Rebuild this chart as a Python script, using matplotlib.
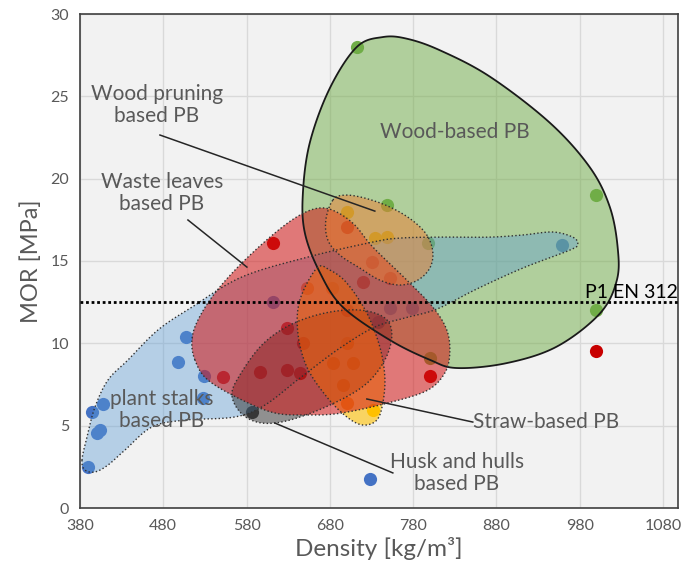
import numpy as np
import matplotlib.pyplot as plt
from matplotlib.patches import Polygon

plt.rcParams['font.family'] = ['Lato', 'DejaVu Sans']

# measured points (density kg/m3, MOR MPa)
stalks_x = [389.6, 400.4, 404, 394.4, 407.6, 497.6, 507.2, 528.8, 527.6, 728, 958.4, 611.6, 752, 778.4, 737.6]
stalks_y = [2.49, 4.55, 4.74, 5.83, 6.31, 8.86, 10.38, 8.01, 6.68, 1.76, 15.97, 12.51, 12.14, 12.14, 11.29]

leaves_x = [611.6, 551.6, 800, 999.2, 700.4, 596, 628.4, 644, 628.4, 647.6, 719.6, 752, 730.4, 700.4]
leaves_y = [16.09, 7.95, 8.01, 9.53, 17.06, 8.26, 8.38, 8.20, 10.93, 10.02, 13.72, 13.96, 14.94, 12.02]

wood_x = [712.4, 999.2, 999.2, 797.6, 800, 748.4]
wood_y = [27.99, 19.0, 12.02, 16.09, 9.11, 18.4]

pruning_x = [700.4, 748.4, 734, 731.6]
pruning_y = [17.97, 16.45, 16.39, 5.95]

straw_x = [652.4, 682.4, 700.4, 707.6, 683.6, 695.6, 700.4]
straw_y = [13.36, 13.36, 10.02, 8.80, 8.80, 7.47, 6.38]

husk_x = [586.4]
husk_y = [5.83]

# region outlines
wood_reg_x = [743.6, 712.4, 680, 656, 647.6, 650, 668, 695.6, 752, 800, 832.4, 892.4, 952.4, 1004,
              1024.4, 1025.6, 1016, 992, 944, 872, 812, 772.4]
wood_reg_y = [28.6, 28.0, 25.5, 22.2, 19.1, 16.7, 14.3, 12.2, 10.2, 9.0, 8.5, 8.8, 9.8, 11.8,
              13.8, 15.8, 18.3, 20.7, 23.4, 26.2, 27.8, 28.5]

stalks_reg_x = [382.4, 386, 398, 413.6, 434, 466.4, 506, 566, 602, 644, 692, 734, 770, 808.4, 856.4,
                911.6, 968, 977.6, 971.6, 947.6, 911.6, 872, 812, 764, 731.6, 653.6, 574.4, 514.4,
                473.6, 437.6, 413.6, 398, 388.4]
stalks_reg_y = [2.91, 2.31, 2.19, 2.61, 3.52, 4.92, 5.34, 5.53, 6.25, 7.89, 9.71, 10.99, 11.54, 12.08,
                13.30, 14.57, 15.66, 16.03, 16.45, 16.76, 16.58, 16.45, 16.45, 16.39, 16.15, 15.24,
                14.03, 12.20, 10.81, 8.99, 7.77, 6.13, 4.31]

leaves_reg_x = [518, 514.4, 521.6, 542, 574.4, 614, 644, 668, 688.4, 710, 731.6, 772.4, 803.6, 820.4,
                824, 818, 797.6, 754.4, 694.4, 653.6, 614, 574.4, 533.6]
leaves_reg_y = [8.99, 10.20, 11.41, 13.05, 14.88, 16.70, 17.79, 18.22, 17.97, 17.18, 15.85, 13.84,
                12.20, 10.81, 9.41, 8.20, 7.16, 6.44, 5.77, 5.65, 5.77, 6.56, 7.77]

pruning_reg_x = [683.6, 698, 722, 752, 778.4, 796.4, 803.6, 800, 785.6, 764, 740, 716, 692, 677.6, 675.2]
pruning_reg_y = [18.70, 19.00, 18.82, 18.28, 17.49, 16.58, 15.54, 14.57, 13.84, 13.54, 13.84, 14.57,
                 15.36, 16.27, 17.49]

straw_reg_x = [664.4, 680, 700.4, 724.4, 740, 746, 743.6, 736.4, 719.6, 700.4, 676.4, 652.4, 641.6, 644]
straw_reg_y = [14.57, 14.45, 13.66, 11.84, 9.78, 7.95, 6.38, 5.34, 5.04, 5.53, 6.74, 8.56, 10.63, 12.63]

husk_reg_x = [562.4, 572, 598.4, 632, 674, 716, 746, 754.4, 746, 722, 680, 632, 598.4, 574.4]
husk_reg_y = [6.86, 8.08, 9.90, 11.11, 11.84, 12.02, 11.54, 10.50, 8.99, 7.47, 6.25, 5.34, 5.16, 5.71]

x_ticks = [380, 480, 580, 680, 780, 880, 980, 1080]
y_ticks = [0, 5, 10, 15, 20, 25, 30]
en312_limit = 12.5


def smooth_closed(xs, ys, n=16):
    # closed Catmull-Rom curve through the outline vertices
    p = np.column_stack([xs, ys])
    m = len(p)
    t = np.linspace(0, 1, n, endpoint=False)[:, None]
    parts = []
    for i in range(m):
        p0, p1, p2, p3 = p[i - 1], p[i], p[(i + 1) % m], p[(i + 2) % m]
        parts.append(0.5 * (2 * p1 + (-p0 + p2) * t + (2 * p0 - 5 * p1 + 4 * p2 - p3) * t ** 2
                            + (-p0 + 3 * p1 - 3 * p2 + p3) * t ** 3))
    return np.vstack(parts)


fig = plt.figure(figsize=(6.83, 5.71), dpi=100)
ax = fig.add_axes([80 / 683, 63 / 571, 598 / 683, 494 / 571])
ax.set_facecolor('#F2F2F2')

# points sit under the shaded regions
ms = 90
ax.scatter(stalks_x, stalks_y, s=ms, color='#4472C4', zorder=2, lw=0)
ax.scatter(leaves_x, leaves_y, s=ms, color='#C80000', zorder=2, lw=0)
ax.scatter(wood_x, wood_y, s=ms, color='#70AD47', zorder=2, lw=0)
ax.scatter(pruning_x, pruning_y, s=ms, color='#FFC000', zorder=2, lw=0)
ax.scatter(straw_x, straw_y, s=ms, color='#ED7D31', zorder=2, lw=0)
ax.scatter(husk_x, husk_y, s=ms, color='#404040', zorder=2, lw=0)

regions = [
    (wood_reg_x, wood_reg_y, '#70AD47', 0.5, 'solid', 1.3),
    (stalks_reg_x, stalks_reg_y, '#5B9BD5', 0.4, ':', 1.0),
    (husk_reg_x, husk_reg_y, '#303030', 0.5, ':', 1.0),
    (straw_reg_x, straw_reg_y, '#FFC000', 0.6, ':', 1.0),
    (leaves_reg_x, leaves_reg_y, '#D21414', 0.55, ':', 1.0),
    (pruning_reg_x, pruning_reg_y, '#ED7D31', 0.5, ':', 1.0),
]
for k, (rx, ry, col, a, ls, lw) in enumerate(regions):
    pts = smooth_closed(rx, ry)
    ax.add_patch(Polygon(pts, closed=True, facecolor=col, alpha=a, edgecolor='none', zorder=3 + k * 0.1))
    ax.add_patch(Polygon(pts, closed=True, facecolor='none', edgecolor='#1a1a1a' if ls == 'solid' else '#303030',
                         lw=lw, ls=ls, zorder=4 + k * 0.1))

ax.axhline(en312_limit, color='black', ls=(0, (1, 1)), lw=2, zorder=5)
ax.text(986, en312_limit + 0.1, 'P1 EN 312', fontsize=14, color='black', va='bottom', ha='left', zorder=6)

txt = dict(color='#595959', fontsize=15, ha='center', va='center', zorder=6, linespacing=1.15)
ax.text(830, 22.83, 'Wood-based PB', **txt)
ax.text(472.4, 24.47, 'Wood pruning\nbased PB', **txt)
ax.text(478.4, 19.13, 'Waste leaves\nbased PB', **txt)
ax.text(478.4, 5.95, 'plant stalks\nbased PB', **txt)
ax.text(832.4, 2.13, 'Husk and hulls\nbased PB', **txt)
ax.text(851.6, 5.22, 'Straw-based PB', **{**txt, 'ha': 'left'})

leader = dict(color='#262626', lw=1.1, zorder=6)
ax.plot([476, 734], [22.65, 18.03], **leader)
ax.plot([509.6, 580.4], [17.49, 14.63], **leader)
ax.plot([724.4, 851.6], [6.62, 5.22], **leader)
ax.plot([614, 755.6], [5.16, 2.13], **leader)

ax.set_xlim(380, 1098)
ax.set_ylim(0, 30)
ax.set_xticks(x_ticks)
ax.set_yticks(y_ticks)
ax.grid(True, color='#D9D9D9', lw=1)
ax.set_axisbelow(True)
ax.tick_params(length=0, labelsize=11.5, labelcolor='#595959', pad=8)
for s in ax.spines.values():
    s.set_color('#404040')
    s.set_linewidth(1.2)
ax.set_xlabel('Density [kg/m³]', fontsize=17.5, color='#595959', labelpad=3)
ax.set_ylabel('MOR [MPa]', fontsize=17, color='#595959', labelpad=6)

fig.savefig('out.png', dpi=100)
